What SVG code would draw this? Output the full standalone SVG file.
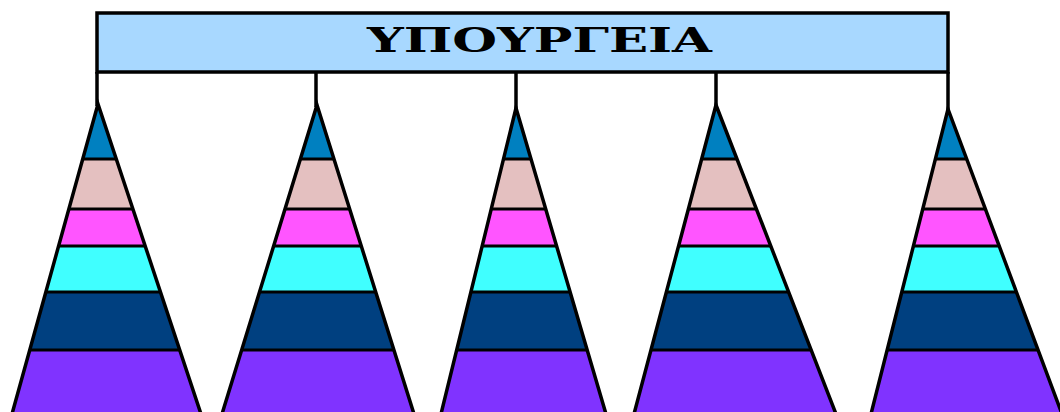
<svg xmlns="http://www.w3.org/2000/svg" xmlns:xlink="http://www.w3.org/1999/xlink" width="1060" height="412" viewBox="0 0 1060 412">
<style>
.box{fill:#A8D8FF;stroke:#000;stroke-width:3.5}
.title{font-family:"DejaVu Serif","Liberation Serif",serif;font-weight:bold;font-size:34px;fill:#000}
.conn{stroke:#000;stroke-width:3.5;fill:none}
.outline{fill:none;stroke:#000;stroke-width:3.5;stroke-linejoin:miter}
.sep{stroke:#000;stroke-width:3}
</style>
<defs>
<g id="bands">
<rect x="0" y="90" width="1060" height="69" fill="#0080C0"/>
<rect x="0" y="159" width="1060" height="50" fill="#E4C0C0"/>
<rect x="0" y="209" width="1060" height="37" fill="#FF55FF"/>
<rect x="0" y="246" width="1060" height="46" fill="#40FFFF"/>
<rect x="0" y="292" width="1060" height="58" fill="#004080"/>
<rect x="0" y="350" width="1060" height="70" fill="#8033FF"/>
<line class="sep" x1="0" y1="159" x2="1060" y2="159"/>
<line class="sep" x1="0" y1="209" x2="1060" y2="209"/>
<line class="sep" x1="0" y1="246" x2="1060" y2="246"/>
<line class="sep" x1="0" y1="292" x2="1060" y2="292"/>
<line class="sep" x1="0" y1="350" x2="1060" y2="350"/>
</g>
<clipPath id="c1"><polygon points="98,104 201,414 12,414"/></clipPath>
<clipPath id="c2"><polygon points="317,105 414,414 222,414"/></clipPath>
<clipPath id="c3"><polygon points="516,108 606,414 441,414"/></clipPath>
<clipPath id="c4"><polygon points="716,105 836,414 634,414"/></clipPath>
<clipPath id="c5"><polygon points="948,109 1062,414 871,414"/></clipPath>
</defs>
<rect width="1060" height="412" fill="#fff"/>
<g id="connectors">
<line class="conn" x1="97" y1="72" x2="97" y2="106"/>
<line class="conn" x1="316" y1="72" x2="316" y2="107"/>
<line class="conn" x1="516" y1="72" x2="516" y2="110"/>
<line class="conn" x1="716" y1="72" x2="716" y2="106"/>
<line class="conn" x1="948" y1="72" x2="948" y2="110"/>
</g>
<g id="ministries">
<rect class="box" x="97" y="13" width="851" height="59"/>
<text class="title" x="367" y="52" textLength="345" lengthAdjust="spacingAndGlyphs">ΥΠΟΥΡΓΕΙΑ</text>
</g>
<g id="pyramid1">
<use xlink:href="#bands" clip-path="url(#c1)"/>
<polygon class="outline" points="98,104 201,414 12,414"/>
</g>
<g id="pyramid2">
<use xlink:href="#bands" clip-path="url(#c2)"/>
<polygon class="outline" points="317,105 414,414 222,414"/>
</g>
<g id="pyramid3">
<use xlink:href="#bands" clip-path="url(#c3)"/>
<polygon class="outline" points="516,108 606,414 441,414"/>
</g>
<g id="pyramid4">
<use xlink:href="#bands" clip-path="url(#c4)"/>
<polygon class="outline" points="716,105 836,414 634,414"/>
</g>
<g id="pyramid5">
<use xlink:href="#bands" clip-path="url(#c5)"/>
<polygon class="outline" points="948,109 1062,414 871,414"/>
</g>
</svg>
